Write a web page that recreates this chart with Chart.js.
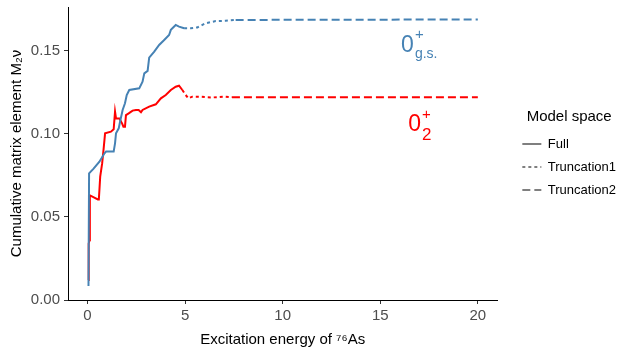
<!DOCTYPE html>
<html>
<head>
<meta charset="utf-8">
<script src="https://cdn.jsdelivr.net/npm/chart.js@4.4.0/dist/chart.umd.min.js"></script>
<style>
  html, body { margin: 0; padding: 0; background: #fff; }
</style>
</head>
<body>
<canvas id="chart" width="634" height="359"></canvas>
<script>
// cumulative M2v vs excitation energy (MeV)
const gsEnergy = [0.05, 0.08, 0.30, 0.61, 0.87, 0.95, 1.34, 1.41, 1.46, 1.60, 1.67, 1.80, 1.92, 2.01, 2.14,
  2.65, 2.82, 2.91, 3.08, 3.16, 3.42, 3.67, 3.93, 4.18, 4.27, 4.52, 4.69, 4.95, 5.29, 5.63,
  6.05, 6.57, 7.07, 7.59, 20];
const gsCumulative = [0.0084, 0.0763, 0.0790, 0.0833, 0.0884, 0.0894, 0.0894, 0.0944, 0.1004, 0.1034, 0.1075, 0.1145, 0.1185, 0.1235, 0.1265,
  0.1275, 0.1315, 0.1365, 0.1380, 0.1460, 0.1496, 0.1536, 0.1566, 0.1596, 0.1627, 0.1657, 0.1647, 0.1637, 0.1637, 0.1642,
  0.1667, 0.1680, 0.1682, 0.1687, 0.1690];

const exEnergy = [0.05, 0.06, 0.10, 0.12, 0.30, 0.53, 0.58, 0.61, 0.65, 0.75, 0.82, 0.90, 1.20, 1.34, 1.41,
  1.46, 1.63, 1.77, 1.84, 1.92, 1.97, 2.11, 2.31, 2.48, 2.62, 2.74, 2.82, 3.16, 3.50, 3.76,
  4.01, 4.27, 4.52, 4.69, 4.86, 5.03, 5.17, 5.37, 5.71, 6.39, 7.07, 7.40, 20];
const exCumulative = [0.012, 0.034, 0.036, 0.0630, 0.0620, 0.0606, 0.0606, 0.0663, 0.0743, 0.0823, 0.0904, 0.1004, 0.1014, 0.1028, 0.1135,
  0.1094, 0.1094, 0.1064, 0.1044, 0.1044, 0.1114, 0.1124, 0.1141, 0.1145, 0.1145, 0.1131, 0.1145, 0.1165, 0.1179, 0.1215,
  0.1235, 0.1265, 0.1285, 0.1291, 0.1265, 0.1235, 0.1215, 0.1225, 0.1225, 0.1220, 0.1225, 0.1222, 0.1222];

const modelSpaces = ['Full', 'Truncation1', 'Truncation2'];
const truncationStart = [4.7, 7.4];   // energies where Truncation1 / Truncation2 take over
const xTicks = [0, 5, 10, 15, 20];
const yTicks = [0, 0.05, 0.10, 0.15];

const dashes = [[], [3, 3], [8, 4]];
const FONT = '"Liberation Sans", Arial, sans-serif';
Chart.defaults.font.family = FONT;

function toPoints(xs, ys) {
  return xs.map((x, i) => ({ x: x, y: ys[i] }));
}

function segDash(ctx) {
  const e = ctx.p0.parsed.x;
  if (e >= truncationStart[1]) return dashes[2];
  if (e >= truncationStart[0]) return dashes[1];
  return dashes[0];
}

function curve(label, pts, color) {
  return {
    label: label,
    data: pts,
    borderColor: color,
    borderWidth: 2,
    pointRadius: 0,
    tension: 0,
    segment: { borderDash: segDash }
  };
}

// labels for the two final states
const stateLabels = [
  { e: 16.07, m: 0.1494, base: '0', sup: '+', sub: 'g.s.', subSize: 14, supDy: -13, subDy: 6, color: '#4682B4' },
  { e: 16.43, m: 0.1018, base: '0', sup: '+', sub: '2', subSize: 17, supDy: -12, subDy: 9, color: '#FF0000' }
];

const stateText = {
  id: 'stateText',
  afterDatasetsDraw(chart) {
    const c = chart.ctx;
    const xs = chart.scales.x, ys = chart.scales.y;
    c.save();
    c.textBaseline = 'alphabetic';
    c.textAlign = 'left';
    stateLabels.forEach(l => {
      const x = xs.getPixelForValue(l.e);
      const y = ys.getPixelForValue(l.m);
      c.fillStyle = l.color;
      c.font = '23px ' + FONT;
      c.fillText(l.base, x, y);
      const w = c.measureText(l.base).width;
      c.font = '15px ' + FONT;
      c.fillText(l.sup, x + w + 1, y + l.supDy);
      c.font = l.subSize + 'px ' + FONT;
      c.fillText(l.sub, x + w + 1, y + l.subDy);
    });
    c.restore();
  }
};

// move the legend a little away from the panel, like ggplot's guide box
const legendNudge = {
  id: 'legendNudge',
  afterLayout(chart) {
    const lg = chart.legend;
    if (!lg) return;
    lg.left += 15; lg.right += 15;
    lg.top -= 25; lg.bottom -= 25;
  }
};

new Chart(document.getElementById('chart').getContext('2d'), {
  type: 'line',
  data: {
    datasets: [
      curve('0+ g.s.', toPoints(gsEnergy, gsCumulative), '#4682B4'),
      curve('0+ 2', toPoints(exEnergy, exCumulative), '#FF0000')
    ]
  },
  plugins: [stateText, legendNudge],
  options: {
    responsive: false,
    animation: false,
    events: [],
    layout: { padding: { top: 7, left: 0, right: 23, bottom: 0 } },
    plugins: {
      tooltip: { enabled: false },
      legend: {
        position: 'right',
        align: 'center',
        title: {
          display: true,
          text: 'Model space',
          color: '#000',
          position: 'center',
          font: { size: 15 },
          padding: { top: 0, bottom: 0 }
        },
        labels: {
          usePointStyle: true,
          pointStyle: 'line',
          pointStyleWidth: 19,
          boxHeight: 13,
          color: '#000',
          font: { size: 13 },
          padding: 10,
          generateLabels: () => modelSpaces.map((name, i) => ({
            text: name,
            fillStyle: '#7f7f7f',
            strokeStyle: '#7f7f7f',
            fontColor: '#000',
            lineWidth: 2,
            lineDash: dashes[i],
            lineCap: 'butt',
            pointStyle: 'line',
            hidden: false
          }))
        }
      }
    },
    scales: {
      x: {
        type: 'linear',
        min: -1,
        max: 21,
        afterBuildTicks: s => { s.ticks = xTicks.map(v => ({ value: v })); },
        afterFit: s => { s.height = 59; s.paddingLeft = 0; s.paddingRight = 0; },
        grid: { drawOnChartArea: false, tickLength: 4, color: '#333333' },
        border: { color: '#000', width: 1 },
        ticks: { color: '#4d4d4d', font: { size: 15 }, padding: 3, maxRotation: 0 },
        title: { display: true, text: 'Excitation energy of \u2077\u2076As', color: '#000', font: { size: 15 }, padding: { top: 0, bottom: 10 } }
      },
      y: {
        min: 0,
        max: 0.1765,
        afterBuildTicks: s => { s.ticks = yTicks.map(v => ({ value: v })); },
        afterFit: s => { s.width = 68; s.paddingTop = 0; s.paddingBottom = 0; },
        grid: { drawOnChartArea: false, tickLength: 4, color: '#333333' },
        border: { color: '#000', width: 1 },
        ticks: { color: '#4d4d4d', font: { size: 15 }, padding: 4, callback: v => v.toFixed(2) },
        title: { display: true, text: 'Cumulative matrix element M\u2082\u03bd', color: '#000', font: { size: 15 }, padding: { top: 8, bottom: 0 } }
      }
    }
  }
});
</script>
</body>
</html>
